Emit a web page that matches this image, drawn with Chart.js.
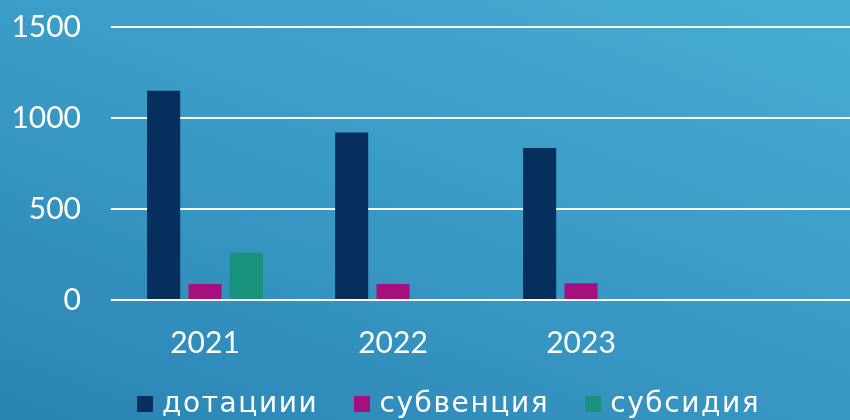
<!DOCTYPE html>
<html>
<head>
<meta charset="utf-8">
<script src="https://cdn.jsdelivr.net/npm/chart.js@4"></script>
<style>
    html, body {
        margin: 0;
        padding: 0;
        width: 850px;
        height: 420px;
        overflow: hidden;
    }
    body {
        background: linear-gradient(200deg, #47add2 0%, #3a9ac6 50%, #2a84b3 100%);
    }
    #wrap {
        position: relative;
        width: 866px;
        height: 420px;
    }
    #legend {
        position: absolute;
        left: 137px;
        top: 386px;
        display: flex;
        align-items: center;
        font-family: "DejaVu Sans", sans-serif;
        font-size: 28px;
        letter-spacing: 1.6px;
        color: #ffffff;
        white-space: nowrap;
    }
    #legend .item {
        display: flex;
        align-items: center;
        margin-right: 36px;
    }
    #legend .box {
        width: 16px;
        height: 16px;
        margin-right: 9px;
        margin-top: 3px;
    }
</style>
</head>
<body>
<div id="wrap">
    <canvas id="chart"></canvas>
    <div id="legend"></div>
</div>
<script>
const years = ["2021", "2022", "2023", ""];
const dotacii = [1150, 920, 835, null];
const subvencii = [88, 88, 92, null];
const subsidii = [260, null, null, null];
const yTicks = [0, 500, 1000, 1500];

(function () {
    const font = "Lato, 'DejaVu Sans', sans-serif";
    const ctx = document.getElementById("chart").getContext("2d");
    const legend = document.getElementById("legend");

    function ds(label, data, color) {
        return {
            label: label,
            data: data,
            backgroundColor: color,
            borderWidth: 0,
            categoryPercentage: 0.66,
            barPercentage: 0.8
        };
    }

    const chart = new Chart(ctx, {
        type: "bar",
        data: {
            labels: years,
            datasets: [
                ds("дотациии", dotacii, "#062f5e"),
                ds("субвенция", subvencii, "#a5107f"),
                ds("субсидия", subsidii, "#16937a")
            ]
        },
        options: {
            responsive: true,
            maintainAspectRatio: false,
            animation: false,
            layout: { padding: { left: 11, right: 3, top: 27, bottom: 59 } },
            scales: {
                x: {
                    grid: { display: false, drawTicks: false },
                    border: { display: false },
                    ticks: {
                        color: "#ffffff",
                        padding: 25,
                        font: { family: font, size: 30 }
                    },
                    afterFit: function (scale) {
                        scale.height = 61;
                        scale.paddingLeft = 0;
                        scale.paddingRight = 0;
                    }
                },
                y: {
                    min: 0,
                    max: 1500,
                    afterBuildTicks: function (scale) {
                        scale.ticks = yTicks.map(function (v) { return { value: v }; });
                    },
                    grid: { color: "#ffffff", lineWidth: 2, drawTicks: false },
                    border: { display: false },
                    ticks: {
                        color: "#ffffff",
                        padding: 30,
                        font: { family: font, size: 30 },
                        callback: function (v) { return String(v); }
                    },
                    afterFit: function (scale) {
                        scale.width = 100;
                        scale.paddingTop = 0;
                        scale.paddingBottom = 0;
                    }
                }
            },
            plugins: {
                legend: { display: false },
                tooltip: { enabled: false }
            }
        }
    });

    // html legend, so the wide letter spacing of the original can be matched
    chart.data.datasets.forEach(function (d) {
        const item = document.createElement("div");
        item.className = "item";
        const box = document.createElement("span");
        box.className = "box";
        box.style.background = d.backgroundColor;
        const txt = document.createElement("span");
        txt.textContent = d.label;
        item.appendChild(box);
        item.appendChild(txt);
        legend.appendChild(item);
    });
})();
</script>
</body>
</html>
